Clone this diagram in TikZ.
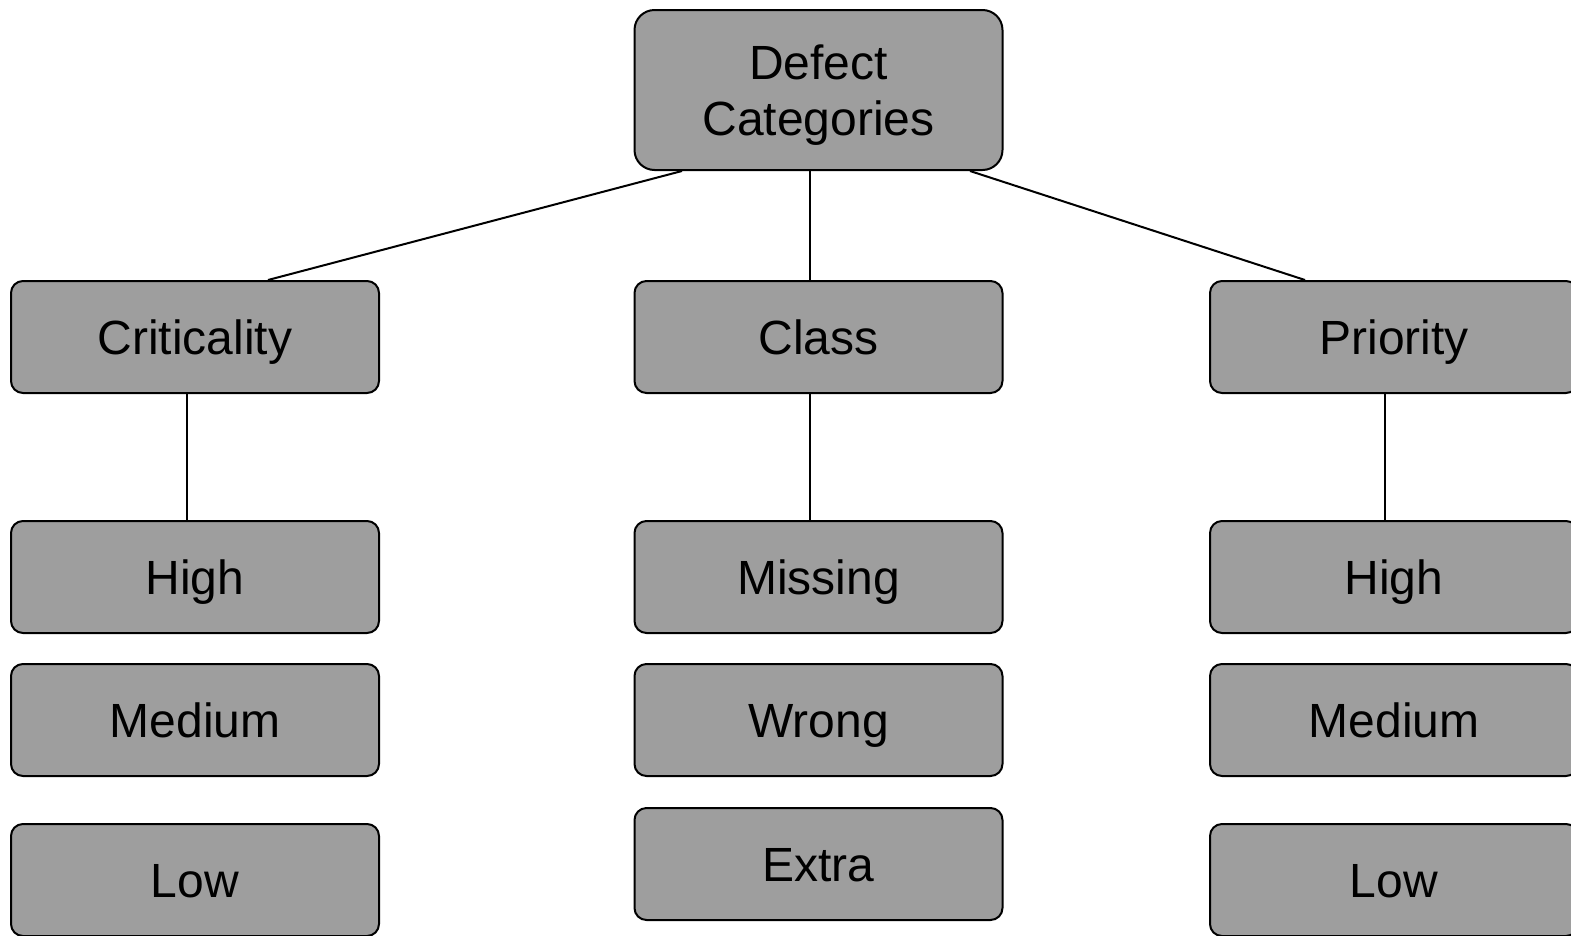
\documentclass[tikz,border=0pt]{standalone}
\usepackage{fontspec}
\setmainfont{Liberation Sans}
\definecolor{boxgray}{HTML}{9E9E9E}
\tikzset{
	catbox/.style={draw=black, line width=2pt, fill=boxgray, rounded corners=12pt,
		minimum width=368pt, minimum height=112pt, inner sep=0pt,
		text height=35pt, text depth=1pt,
		font=\fontsize{48}{56}\selectfont, align=center},
	rootbox/.style={catbox, minimum height=160pt, rounded corners=20pt,
		text height=, text depth=-12pt},
	link/.style={line width=2pt}
}
\begin{document}
\begin{tikzpicture}[x=1pt, y=-1pt]
				\useasboundingbox (0,0) rectangle (1571,935);
				\clip (0,0) rectangle (1571,935);
				\node[rootbox] (root) at (818.5,90) {Defect\\Categories};
				\node[catbox] (crit) at (195,337) {Criticality};
				\node[catbox] (class) at (818.5,337) {Class};
				\node[catbox] (prio) at (1394,337) {Priority};
				\node[catbox] (crithigh) at (195,577) {High};
				\node[catbox] (critmed) at (195,720) {Medium};
				\node[catbox] (critlow) at (195,880) {Low};
				\node[catbox] (missing) at (818.5,577) {Missing};
				\node[catbox] (wrong) at (818.5,720) {Wrong};
				\node[catbox] (extra) at (818.5,864) {Extra};
				\node[catbox] (priohigh) at (1394,577) {High};
				\node[catbox] (priomed) at (1394,720) {Medium};
				\node[catbox] (priolow) at (1394,880) {Low};
				\draw[link] ([xshift=-136.5pt]root.south) -- ([xshift=73pt]crit.north);
				\draw[link] ([xshift=-8.5pt]root.south) -- ([xshift=-8.5pt]class.north);
				\draw[link] ([xshift=151.5pt]root.south) -- ([xshift=-89pt]prio.north);
				\draw[link] ([xshift=-8pt]crit.south) -- ([xshift=-8pt]crithigh.north);
				\draw[link] ([xshift=-8.5pt]class.south) -- ([xshift=-8.5pt]missing.north);
				\draw[link] ([xshift=-9pt]prio.south) -- ([xshift=-9pt]priohigh.north);
			\end{tikzpicture}
\end{document}
